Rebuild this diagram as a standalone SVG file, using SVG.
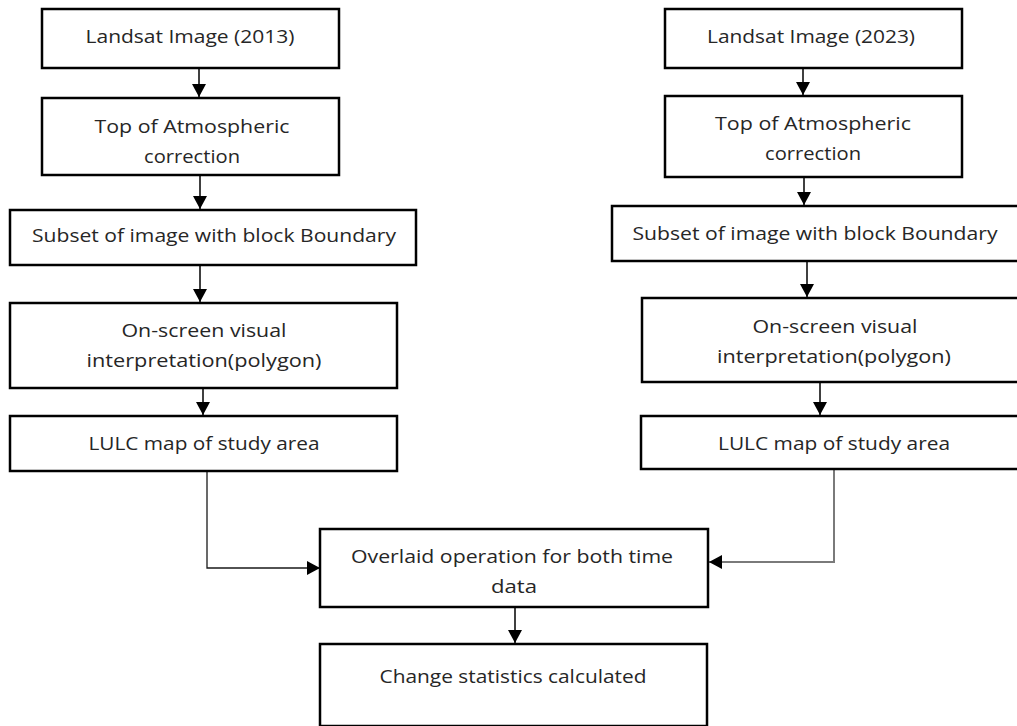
<svg xmlns="http://www.w3.org/2000/svg" width="1017" height="726" viewBox="0 0 1017 726">
<style>
.box{fill:#fff;stroke:#000;stroke-width:2.5}
.t{font-family:"Open Sans","Noto Sans","Liberation Sans",sans-serif;font-size:19px;fill:#262626;text-anchor:middle}
.ar{fill:none;stroke:#000;stroke-width:1.5;marker-end:url(#ah)}
.ln{fill:none;stroke:#1a1a1a;stroke-width:1.3;marker-end:url(#ah)}
.lg{fill:none;stroke:#7a7a7a;stroke-width:2;marker-end:url(#ah)}
</style>
<defs>
<marker id="ah" markerUnits="userSpaceOnUse" markerWidth="14" markerHeight="14" refX="13" refY="7" orient="auto">
<path d="M0,0 L13,7 L0,14 z" fill="#000"/>
</marker>
</defs>
<rect width="1017" height="726" fill="#fff"/>
<g id="connectors">
<path class="ar" d="M199,68 V97"/>
<path class="ar" d="M200,175 V209"/>
<path class="ar" d="M200,265 V302"/>
<path class="ar" d="M203,388 V415"/>
<path class="ar" d="M803,68 V95"/>
<path class="ar" d="M804,177 V205"/>
<path class="ar" d="M807,261 V297"/>
<path class="ar" d="M820,382 V415"/>
<path class="ln" d="M207,471 V568 H320"/>
<path class="lg" d="M834,469 V562 H709"/>
<path class="ar" d="M515,607 V643"/>
</g>
<g id="n1"><rect class="box" x="42" y="9" width="297" height="59"/><text class="t" x="190" y="43" textLength="209" lengthAdjust="spacingAndGlyphs">Landsat Image (2013)</text></g>
<g id="n2"><rect class="box" x="42" y="98" width="297" height="77"/><text class="t" x="192" y="133" textLength="195" lengthAdjust="spacingAndGlyphs">Top of Atmospheric</text><text class="t" x="192" y="163" textLength="96" lengthAdjust="spacingAndGlyphs">correction</text></g>
<g id="n3"><rect class="box" x="10" y="210" width="406" height="55"/><text class="t" x="214" y="242" textLength="364" lengthAdjust="spacingAndGlyphs">Subset of image with block Boundary</text></g>
<g id="n4"><rect class="box" x="10" y="303" width="387" height="85"/><text class="t" x="204" y="337" textLength="165" lengthAdjust="spacingAndGlyphs">On-screen visual</text><text class="t" x="204" y="367" textLength="235" lengthAdjust="spacingAndGlyphs">interpretation(polygon)</text></g>
<g id="n5"><rect class="box" x="10" y="416" width="387" height="55"/><text class="t" x="204" y="450" textLength="231" lengthAdjust="spacingAndGlyphs">LULC map of study area</text></g>
<g id="m1"><rect class="box" x="665" y="9" width="297" height="59"/><text class="t" x="811" y="43" textLength="208" lengthAdjust="spacingAndGlyphs">Landsat Image (2023)</text></g>
<g id="m2"><rect class="box" x="665" y="96" width="297" height="81"/><text class="t" x="813" y="130" textLength="196" lengthAdjust="spacingAndGlyphs">Top of Atmospheric</text><text class="t" x="813" y="160" textLength="96" lengthAdjust="spacingAndGlyphs">correction</text></g>
<g id="m3"><rect class="box" x="612" y="206" width="420" height="55"/><text class="t" x="815" y="240" textLength="365" lengthAdjust="spacingAndGlyphs">Subset of image with block Boundary</text></g>
<g id="m4"><rect class="box" x="642" y="298" width="400" height="84"/><text class="t" x="835" y="333" textLength="165" lengthAdjust="spacingAndGlyphs">On-screen visual</text><text class="t" x="834" y="363" textLength="234" lengthAdjust="spacingAndGlyphs">interpretation(polygon)</text></g>
<g id="m5"><rect class="box" x="641" y="416" width="400" height="53"/><text class="t" x="834" y="450" textLength="232" lengthAdjust="spacingAndGlyphs">LULC map of study area</text></g>
<g id="overlay"><rect class="box" x="320" y="529" width="388" height="78"/><text class="t" x="512" y="563" textLength="322" lengthAdjust="spacingAndGlyphs">Overlaid operation for both time</text><text class="t" x="514" y="593" textLength="46" lengthAdjust="spacingAndGlyphs">data</text></g>
<g id="change"><rect class="box" x="320" y="644" width="387" height="82"/><text class="t" x="513" y="683" textLength="267" lengthAdjust="spacingAndGlyphs">Change statistics calculated</text></g>
</svg>
